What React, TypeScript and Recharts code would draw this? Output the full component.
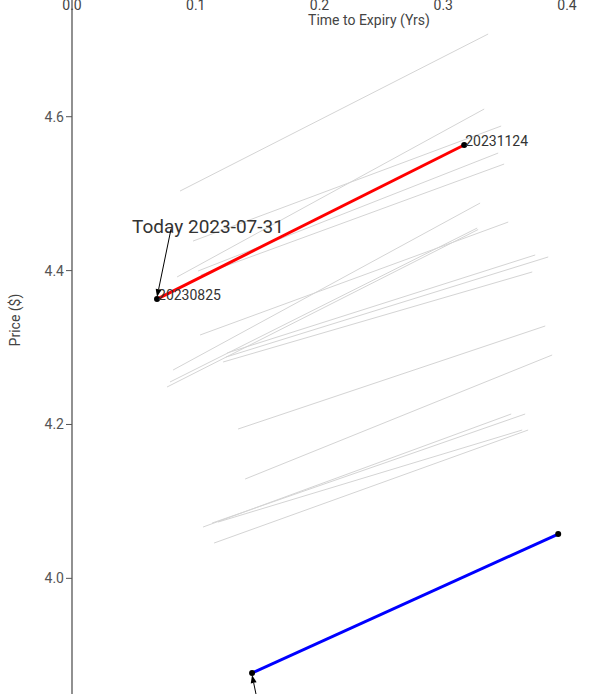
import { Line, LineChart, XAxis, YAxis } from "recharts";

// historic curves (near contract -> far contract), grey background lines
const nearTenor = [0.0873, 0.0849, 0.0978, 0.1019, 0.1043, 0.0817, 0.0792, 0.0768, 0.1035, 0.1253, 0.1245, 0.1221, 0.1342, 0.1399, 0.1059, 0.1132, 0.118, 0.1148];
const nearPrice = [4.5034, 4.3917, 4.4384, 4.3995, 4.3943, 4.2708, 4.2552, 4.2487, 4.3163, 4.2929, 4.2877, 4.2812, 4.1941, 4.1291, 4.0667, 4.0719, 4.0732, 4.0459];
const farTenor = [0.3363, 0.3331, 0.3468, 0.3444, 0.3492, 0.3298, 0.3274, 0.3282, 0.3525, 0.3743, 0.3848, 0.3719, 0.3824, 0.388, 0.3549, 0.3662, 0.3638, 0.3686];
const farPrice = [4.7075, 4.61, 4.5879, 4.5528, 4.5385, 4.4878, 4.4553, 4.4534, 4.4631, 4.4203, 4.4177, 4.3982, 4.328, 4.2903, 4.2136, 4.2136, 4.1928, 4.1928];

// today's curve
const todayTenor = [0.0687, 0.3169];
const todayPrice = [4.363, 4.5632];
const todayContracts = ["20230825", "20231124"];
const todayLabel = "Today 2023-07-31";

// blue curve
const blueTenor = [0.1455, 0.3929];
const bluePrice = [3.877, 4.0576];

const xTicks = [0, 0.1, 0.2, 0.3, 0.4];
const yTicks = [4.0, 4.2, 4.4, 4.6];

const FONT = "Roboto, sans-serif";
const TOP = 30; // x axis band, pushed out of view above the page

const greyCurves = nearTenor.map((t, i) => [
  { t, p: nearPrice[i] },
  { t: farTenor[i], p: farPrice[i] },
]);
const todayData = todayTenor.map((t, i) => ({ t, p: todayPrice[i] }));
const blueData = blueTenor.map((t, i) => ({ t, p: bluePrice[i] }));

function Arrow({ x1, y1, x2, y2 }: { x1: number; y1: number; x2: number; y2: number }) {
  const a = Math.atan2(y2 - y1, x2 - x1);
  const len = 8;
  const w = 3;
  const bx = x2 - Math.cos(a) * len;
  const by = y2 - Math.sin(a) * len;
  const pts = [
    [x2, y2],
    [bx + Math.sin(a) * w, by - Math.cos(a) * w],
    [bx - Math.sin(a) * w, by + Math.cos(a) * w],
  ]
    .map((p) => p.join(","))
    .join(" ");
  return (
    <g>
      <line x1={x1} y1={y1} x2={bx} y2={by} stroke="#000" strokeWidth={1} />
      <polygon points={pts} fill="#000" />
    </g>
  );
}

function TodayDot(props: any) {
  const { cx, cy, index } = props;
  return (
    <g key={`td-${index}`}>
      <circle cx={cx} cy={cy} r={3} fill="#000" />
      <text x={cx + 1} y={cy + 1} fontSize={14} fill="#333" fontFamily={FONT}>
        {todayContracts[index]}
      </text>
      {index === 0 && (
        <g>
          <text x={cx + 51} y={cy - 66} fontSize={19} fill="#333" textAnchor="middle" fontFamily={FONT}>
            {todayLabel}
          </text>
          <Arrow x1={cx + 14} y1={cy - 70} x2={cx} y2={cy - 2} />
        </g>
      )}
    </g>
  );
}

function BlueDot(props: any) {
  const { cx, cy, index } = props;
  return (
    <g key={`bd-${index}`}>
      <circle cx={cx} cy={cy} r={3} fill="#000" />
      {index === 0 && <Arrow x1={cx + 14} y1={cy + 70} x2={cx} y2={cy + 2} />}
    </g>
  );
}

export default function App() {
  return (
    <div
      style={{
        position: "absolute",
        left: 0,
        top: 0,
        width: 608,
        height: 694,
        overflow: "hidden",
        background: "#fff",
        fontFamily: FONT,
      }}
    >
      <div style={{ marginTop: -TOP }}>
        <LineChart width={666} height={694 + TOP} margin={{ top: 0, right: 0, bottom: 0, left: 0 }}>
          <XAxis
            dataKey="t"
            type="number"
            orientation="top"
            height={TOP}
            domain={[0, 0.48]}
            ticks={xTicks}
            allowDataOverflow
            axisLine={false}
            tickLine={false}
            tick={(p: any) => (
              <text key={p.index} x={p.x} y={TOP + 10} textAnchor="middle" fontSize={14} fill="#444" fontFamily={FONT}>
                {Number(p.payload.value).toFixed(1)}
              </text>
            )}
            label={(p: any) => {
              const vb = p.viewBox || { x: 72, width: 594 };
              return (
                <text x={vb.x + vb.width / 2} y={TOP + 25} textAnchor="middle" fontSize={14} fill="#444" fontFamily={FONT}>
                  Time to Expiry (Yrs)
                </text>
              );
            }}
          />
          <YAxis
            type="number"
            width={72}
            domain={[3.8497, 4.7517]}
            ticks={yTicks}
            allowDataOverflow
            tickSize={6}
            tickMargin={2}
            axisLine={{ stroke: "#555", strokeWidth: 1.3 }}
            tickLine={{ stroke: "#555" }}
            tick={{ fontSize: 14, fill: "#555", fontFamily: FONT }}
            tickFormatter={(v: number) => v.toFixed(1)}
            label={(p: any) => {
              const vb = p.viewBox || { x: 0, y: TOP, height: 694 };
              const x = vb.x + 15;
              const y = vb.y + vb.height / 2 - 27;
              return (
                <text
                  x={x}
                  y={y}
                  transform={`rotate(-90 ${x} ${y})`}
                  textAnchor="middle"
                  dominantBaseline="central"
                  fontSize={14}
                  fill="#444"
                  fontFamily={FONT}
                >
                  Price ($)
                </text>
              );
            }}
          />
          {greyCurves.map((d, i) => (
            <Line
              key={i}
              data={d}
              dataKey="p"
              stroke="#d4d4d4"
              strokeWidth={1}
              dot={false}
              activeDot={false}
              isAnimationActive={false}
            />
          ))}
          <Line
            data={todayData}
            dataKey="p"
            stroke="#ff0000"
            strokeWidth={3}
            dot={TodayDot}
            activeDot={false}
            isAnimationActive={false}
          />
          <Line
            data={blueData}
            dataKey="p"
            stroke="#0000ff"
            strokeWidth={3}
            dot={BlueDot}
            activeDot={false}
            isAnimationActive={false}
          />
        </LineChart>
      </div>
    </div>
  );
}
